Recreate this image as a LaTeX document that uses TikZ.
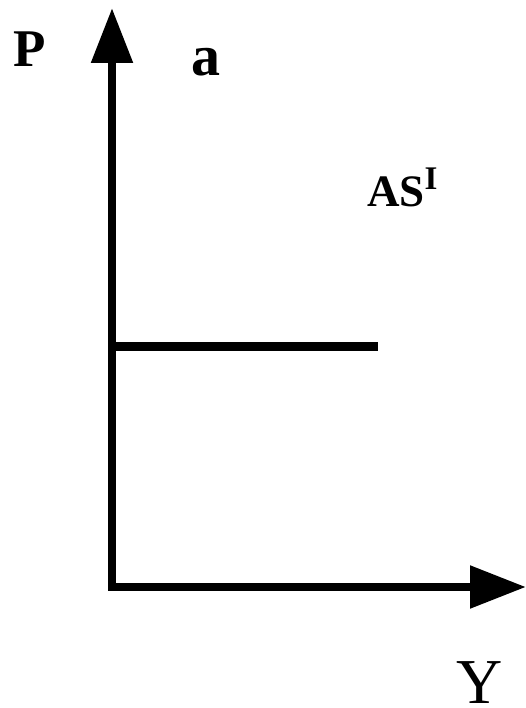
\documentclass[tikz,border=0pt]{standalone}
\usepackage{fontspec}
\setmainfont{Liberation Serif}
\usetikzlibrary{arrows.meta}
\tikzset{
  axis/.style={line width=8.5pt, line join=miter},
  curve/.style={line width=9pt},
  lbl/.style={inner sep=0pt, anchor=base west, text depth=0pt},
}
\begin{document}
\begin{tikzpicture}[x=1pt,y=-1pt]
\useasboundingbox (0,0) rectangle (526,708);
\coordinate (ytip) at (112,8);
\coordinate (origin) at (112,587);
\coordinate (xtip) at (526,587);
\coordinate (asl) at (112,346);
\coordinate (asr) at (378,346);
\draw[axis, {Triangle[length=55pt,width=40pt]}-{Triangle[length=56pt,width=41pt]}] (ytip) -- (origin) -- (xtip);
\draw[curve] (asl) -- (asr);
\node[lbl] (P) at (13,67) {\fontsize{53}{53}\selectfont\bfseries P};
\node[lbl] (a) at (191,76) {\fontsize{58}{58}\selectfont\bfseries a};
\node[lbl] (AS) at (367,207) {\fontsize{45}{45}\selectfont\bfseries AS\raisebox{17pt}{\fontsize{33}{33}\selectfont I}};
\node[lbl] (Y) at (456,703) {\fontsize{64}{64}\selectfont Y};
\end{tikzpicture}
\end{document}
